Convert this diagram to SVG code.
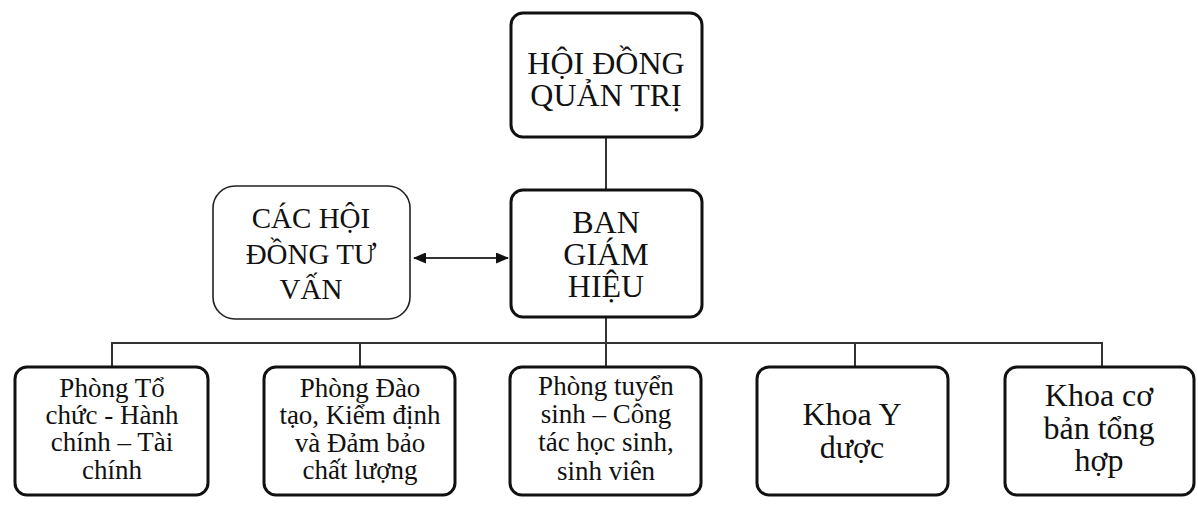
<svg xmlns="http://www.w3.org/2000/svg" width="1198" height="510" viewBox="0 0 1198 510">
<defs>
<style>
.box{fill:#fff;stroke:#111;stroke-width:3}
.soft{fill:#fff;stroke:#222;stroke-width:1.6}
.t{font-family:"Liberation Serif","Times New Roman",serif;fill:#111;text-anchor:middle}
.big{font-size:32px}
.mid{font-size:29px}
.sm{font-size:27px}
.ln{fill:none;stroke:#333;stroke-width:2}
</style>
<marker id="ah" viewBox="0 0 13 11" refX="12" refY="5.5" markerWidth="6.5" markerHeight="5.5" orient="auto-start-reverse">
<path d="M0,0 L13,5.5 L0,11 Z" fill="#111"/>
</marker>
</defs>
<rect width="1198" height="510" fill="#fff"/>
<g id="connectors">
<line class="ln" x1="606" y1="137" x2="606" y2="190"/>
<line class="ln" x1="606" y1="317" x2="606" y2="343"/>
<line class="ln" x1="111" y1="343" x2="1103" y2="343"/>
<line class="ln" x1="112" y1="343" x2="112" y2="367"/>
<line class="ln" x1="360" y1="343" x2="360" y2="367"/>
<line class="ln" x1="606" y1="343" x2="606" y2="367"/>
<line class="ln" x1="855" y1="343" x2="855" y2="367"/>
<line class="ln" x1="1102" y1="343" x2="1102" y2="367"/>
<line class="ln" x1="414" y1="258" x2="508" y2="258" marker-start="url(#ah)" marker-end="url(#ah)"/>
</g>
<g id="hoi-dong-quan-tri">
<rect class="box" x="511" y="13" width="191" height="124" rx="12"/>
<text class="t big" x="606" y="74">HỘI ĐỒNG</text>
<text class="t big" x="606" y="106">QUẢN TRỊ</text>
</g>
<g id="ban-giam-hieu">
<rect class="box" x="511" y="190" width="191" height="127" rx="12"/>
<text class="t big" x="606" y="233">BAN</text>
<text class="t big" x="606" y="265">GIÁM</text>
<text class="t big" x="606" y="297">HIỆU</text>
</g>
<g id="cac-hoi-dong-tu-van">
<rect class="soft" x="213" y="186" width="197" height="133" rx="22"/>
<text class="t mid" x="311" y="228">CÁC HỘI</text>
<text class="t mid" x="311" y="264">ĐỒNG TƯ</text>
<text class="t mid" x="311" y="299">VẤN</text>
</g>
<g id="phong-to-chuc">
<rect class="box" x="15" y="367" width="193" height="128" rx="12"/>
<text class="t sm" x="112" y="397">Phòng Tổ</text>
<text class="t sm" x="112" y="424">chức - Hành</text>
<text class="t sm" x="112" y="451">chính – Tài</text>
<text class="t sm" x="112" y="479">chính</text>
</g>
<g id="phong-dao-tao">
<rect class="box" x="264" y="367" width="191" height="128" rx="12"/>
<text class="t sm" x="360" y="397">Phòng Đào</text>
<text class="t sm" x="360" y="424">tạo, Kiểm định</text>
<text class="t sm" x="360" y="452">và Đảm bảo</text>
<text class="t sm" x="360" y="479">chất lượng</text>
</g>
<g id="phong-tuyen-sinh">
<rect class="box" x="510" y="367" width="191" height="128" rx="12"/>
<text class="t sm" x="606" y="395">Phòng tuyển</text>
<text class="t sm" x="606" y="423">sinh – Công</text>
<text class="t sm" x="606" y="451">tác học sinh,</text>
<text class="t sm" x="606" y="480">sinh viên</text>
</g>
<g id="khoa-y-duoc">
<rect class="box" x="757" y="367" width="191" height="128" rx="12"/>
<text class="t big" x="852" y="425">Khoa Y</text>
<text class="t big" x="852" y="458">dược</text>
</g>
<g id="khoa-co-ban">
<rect class="box" x="1005" y="367" width="189" height="128" rx="12"/>
<text class="t big" x="1099" y="406">Khoa cơ</text>
<text class="t big" x="1099" y="439">bản tổng</text>
<text class="t big" x="1099" y="471">hợp</text>
</g>
</svg>
